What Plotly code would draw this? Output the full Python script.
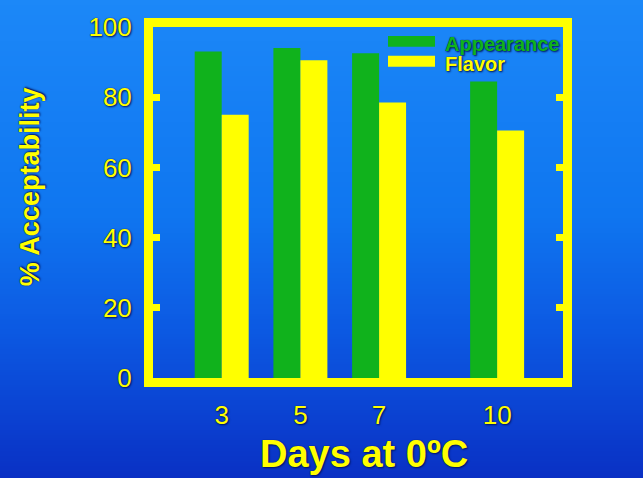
import base64
import struct
import zlib

import plotly.graph_objects as go

# Shelf-life sensory scores
days = [3, 5, 7, 10]
appearance = [93, 94, 92.5, 84.5]
flavor = [75, 90.5, 78.5, 70.5]
y_ticks = [0, 20, 40, 60, 80, 100]

W, H = 643, 478
L, R, T, B = 153, 80, 24, 100
PW, PH = W - L - R, H - T - B

YELLOW = "#ffff00"
GREEN = "#10b21c"
FONT = "Liberation Sans"
SHADOW = "0px 0px 1px #00145a, 1px 1px 2px #00145a"


def gradient_png(stops, height, width=2):
    """Build a small vertical-gradient PNG and return it as a data URI."""
    rows = []
    for i in range(height):
        t = i / (height - 1)
        for (t0, c0), (t1, c1) in zip(stops[:-1], stops[1:]):
            if t0 <= t <= t1:
                f = (t - t0) / (t1 - t0) if t1 > t0 else 0
                c = [round(a + (b - a) * f) for a, b in zip(c0, c1)]
                break
        rows.append(b"\x00" + bytes(c) * width)
    raw = b"".join(rows)

    def chunk(tag, data):
        return (struct.pack(">I", len(data)) + tag + data
                + struct.pack(">I", zlib.crc32(tag + data) & 0xFFFFFFFF))

    png = (b"\x89PNG\r\n\x1a\n"
           + chunk(b"IHDR", struct.pack(">IIBBBBB", width, height, 8, 2, 0, 0, 0))
           + chunk(b"IDAT", zlib.compress(raw))
           + chunk(b"IEND", b""))
    return "data:image/png;base64," + base64.b64encode(png).decode()


bg_stops = [
    (0.0, (28, 136, 248)),
    (0.45, (15, 118, 240)),
    (0.7, (12, 88, 226)),
    (1.0, (10, 48, 196)),
]

fig = go.Figure()
fig.add_trace(go.Bar(x=days, y=appearance, name="Appearance",
                     marker=dict(color=GREEN, line=dict(width=0))))
fig.add_trace(go.Bar(x=days, y=flavor, name="Flavor",
                     marker=dict(color=YELLOW, line=dict(width=0))))

tick_font = dict(family=FONT, size=26, color=YELLOW, shadow=SHADOW)

fig.update_layout(
    width=W, height=H,
    margin=dict(l=L, r=R, t=T, b=B, pad=0),
    paper_bgcolor="#1686f6",
    plot_bgcolor="rgba(0,0,0,0)",
    barmode="group",
    bargap=0.314,
    bargroupgap=0,
    showlegend=False,
    xaxis=dict(
        range=[1.254, 11.674],
        tickvals=days,
        ticktext=[str(d) for d in days],
        tickfont=tick_font,
        showline=True, linecolor=YELLOW, linewidth=9, mirror=True,
        ticks="", showgrid=False, zeroline=False,
        ticklabelstandoff=6,
    ),
    yaxis=dict(
        range=[0, 100],
        tickvals=y_ticks,
        tickfont=tick_font,
        showline=True, linecolor=YELLOW, linewidth=9, mirror="ticks",
        ticks="", showgrid=False, zeroline=False,
        minor=dict(tickvals=y_ticks[1:-1], ticks="inside", ticklen=7,
                   tickwidth=7, tickcolor=YELLOW, showgrid=False),
        ticklabelstandoff=7,
    ),
    yaxis2=dict(
        range=[0, 100],
        overlaying="y", side="right", anchor="x",
        tickvals=y_ticks,
        tickfont=tick_font,
        showline=False, ticks="", showgrid=False, zeroline=False,
        ticklabelstandoff=20,
    ),
)

# Gradient backdrop spanning the whole page (with a little bleed on every side)
BLEED = 6
fig.add_layout_image(
    source=gradient_png(bg_stops, 96),
    xref="paper", yref="paper",
    x=-(L + BLEED) / PW, y=(H - B + BLEED) / PH,
    sizex=(W + 2 * BLEED) / PW, sizey=(H + 2 * BLEED) / PH,
    xanchor="left", yanchor="top",
    sizing="stretch", layer="below",
)

# Axis titles
fig.add_annotation(
    text="<b>% Acceptability</b>", textangle=-90,
    xref="paper", yref="paper",
    x=(29.5 - L) / PW, y=(H - B - 185) / PH,
    xanchor="center", yanchor="middle", showarrow=False,
    font=dict(family=FONT, size=27, color=YELLOW, shadow=SHADOW),
)
fig.add_annotation(
    text="<b>Days at 0ºC</b>",
    xref="paper", yref="paper",
    x=(364 - L) / PW, y=(H - B - 455) / PH,
    xanchor="center", yanchor="middle", showarrow=False,
    font=dict(family=FONT, size=38, color=YELLOW, shadow=SHADOW),
)

# Legend: wide colour swatches with matching coloured labels
legend_items = [("Appearance", GREEN, 38.5), ("Flavor", YELLOW, 58.5)]
for label, color, yc in legend_items:
    fig.add_shape(
        type="rect", xref="paper", yref="paper",
        x0=(388 - L) / PW, x1=(435 - L) / PW,
        y0=(H - B - (yc - 5.5)) / PH, y1=(H - B - (yc + 5.5)) / PH,
        fillcolor=color, line=dict(width=0), layer="above",
    )
    fig.add_annotation(
        text=f"<b>{label}</b>",
        xref="paper", yref="paper",
        x=(443 - L) / PW, y=(H - B - yc - 3) / PH,
        xanchor="left", yanchor="middle", showarrow=False,
        font=dict(family=FONT, size=20, color=color, shadow=SHADOW),
    )

fig.write_html("out.html")
